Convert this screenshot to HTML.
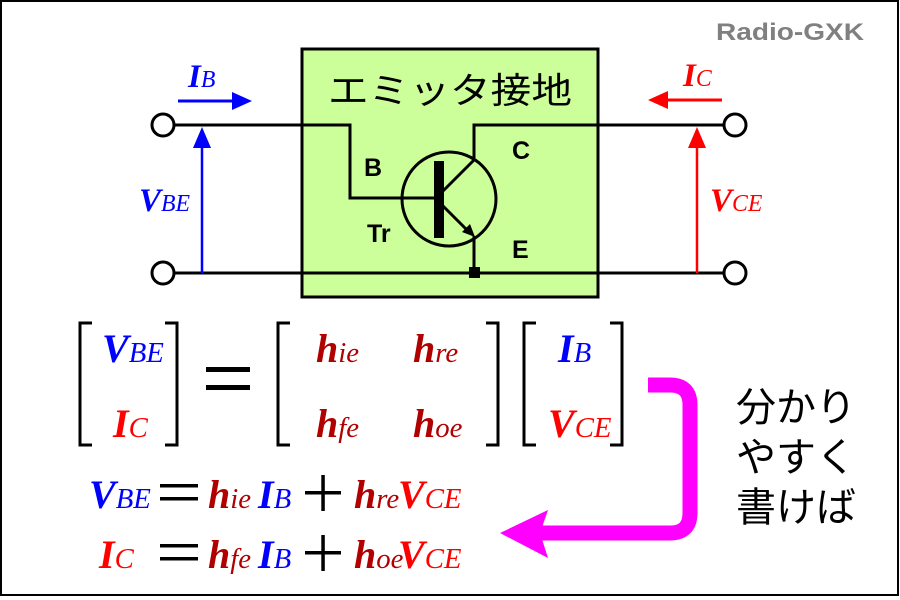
<!DOCTYPE html>
<html><head><meta charset="utf-8"><style>
html,body{margin:0;padding:0;background:#fff}
svg{display:block}
.m{font-family:"Liberation Serif",serif;font-style:italic;font-weight:bold}
.s{font-weight:normal;font-size:0.72em}
.j{font-family:"Liberation Sans","Noto Sans CJK JP",sans-serif}
</style></head><body>
<svg width="900" height="600" viewBox="0 0 900 600" xmlns="http://www.w3.org/2000/svg">
<rect x="1" y="1" width="897" height="594" fill="#fff" stroke="#000" stroke-width="2"/>
<text x="716" y="40" class="j" font-size="24" font-weight="bold" fill="#808080" textLength="148" lengthAdjust="spacingAndGlyphs">Radio-GXK</text>
<rect x="302" y="49" width="296" height="248" fill="#ccff99" stroke="#000" stroke-width="3"/>
<text x="328" y="103" class="j" font-size="36" fill="#000" textLength="244" lengthAdjust="spacingAndGlyphs">エミッタ接地</text>
<g stroke="#000" stroke-width="3" fill="none">
<polyline points="174,125 350,125 350,198 437,198"/>
<polyline points="726,125 474,125 474,158"/>
<line x1="174" y1="273" x2="726" y2="273"/>
<circle cx="163" cy="125" r="11" fill="#fff"/>
<circle cx="163" cy="273" r="11" fill="#fff"/>
<circle cx="735" cy="125" r="11" fill="#fff"/>
<circle cx="735" cy="273" r="11" fill="#fff"/>
<circle cx="449" cy="199" r="47"/>
<line x1="442" y1="192" x2="474" y2="160"/>
<line x1="442" y1="205" x2="471" y2="234"/>
<line x1="474" y1="236" x2="474" y2="273"/>
</g>
<rect x="434" y="161" width="10" height="77" fill="#000"/>
<polygon points="475,237 462,232 470,224" fill="#000"/>
<rect x="469" y="267" width="11" height="11" fill="#000"/>
<g class="j" font-size="25" font-weight="bold" fill="#000">
<text x="364" y="176">B</text><text x="512" y="159">C</text><text x="367" y="242">Tr</text><text x="512" y="258">E</text>
</g>
<g fill="#0000ff" stroke="#0000ff">
<line x1="178" y1="101" x2="238" y2="101" stroke-width="3"/>
<polygon points="252,101 232,92 232,110" stroke="none"/>
<line x1="202" y1="273" x2="202" y2="140" stroke-width="2.5"/>
<polygon points="202,127 193,148 211,148" stroke="none"/>
</g>
<g fill="#ff0000" stroke="#ff0000">
<line x1="722" y1="100" x2="664" y2="100" stroke-width="3"/>
<polygon points="648,100 668,91 668,109" stroke="none"/>
<line x1="697" y1="273" x2="697" y2="140" stroke-width="2.5"/>
<polygon points="697,127 688,148 706,148" stroke="none"/>
</g>
<text x="188" y="87" class="m" font-size="33" fill="#0000ff">I<tspan class="s">B</tspan></text>
<text x="139" y="211" class="m" font-size="33" fill="#0000ff">V<tspan class="s">BE</tspan></text>
<text x="683" y="86" class="m" font-size="33" fill="#ff0000">I<tspan class="s">C</tspan></text>
<text x="710" y="211" class="m" font-size="33" fill="#ff0000">V<tspan class="s">CE</tspan></text>
<g stroke="#000" stroke-width="3" fill="none">
<polyline points="92,323 80,323 80,445 92,445"/>
<polyline points="165,323 177,323 177,445 165,445"/>
<polyline points="290,323 278,323 278,445 290,445"/>
<polyline points="486,323 498,323 498,445 486,445"/>
<polyline points="536,323 524,323 524,445 536,445"/>
<polyline points="610,323 622,323 622,445 610,445"/>
</g>
<rect x="206" y="367" width="44" height="5" fill="#000"/>
<rect x="206" y="385" width="44" height="5" fill="#000"/>
<g class="m" font-size="40">
<text x="102" y="362" fill="#0000ff">V<tspan class="s">BE</tspan></text>
<text x="113" y="437" fill="#ff0000">I<tspan class="s">C</tspan></text>
<text x="316" y="362" fill="#b00000">h<tspan class="s">ie</tspan></text>
<text x="413" y="362" fill="#b00000">h<tspan class="s">re</tspan></text>
<text x="316" y="437" fill="#b00000">h<tspan class="s">fe</tspan></text>
<text x="413" y="437" fill="#b00000">h<tspan class="s">oe</tspan></text>
<text x="558" y="362" fill="#0000ff">I<tspan class="s">B</tspan></text>
<text x="548" y="437" fill="#ff0000">V<tspan class="s">CE</tspan></text>
<text x="89" y="508" fill="#0000ff">V<tspan class="s">BE</tspan></text>
<text x="208" y="508" fill="#b00000">h<tspan class="s">ie</tspan></text>
<text x="258" y="508" fill="#0000ff">I<tspan class="s">B</tspan></text>
<text x="354" y="508" fill="#b00000">h<tspan class="s">re</tspan></text>
<text x="398" y="508" fill="#ff0000">V<tspan class="s">CE</tspan></text>
<text x="99" y="568" fill="#ff0000">I<tspan class="s">C</tspan></text>
<text x="208" y="568" fill="#b00000">h<tspan class="s">fe</tspan></text>
<text x="258" y="568" fill="#0000ff">I<tspan class="s">B</tspan></text>
<text x="354" y="568" fill="#b00000">h<tspan class="s">oe</tspan></text>
<text x="398" y="568" fill="#ff0000">V<tspan class="s">CE</tspan></text>
</g>
<g fill="#000">
<rect x="160" y="484" width="38" height="3.5"/><rect x="160" y="497" width="38" height="3.5"/>
<rect x="160" y="544" width="38" height="3.5"/><rect x="160" y="557" width="38" height="3.5"/>
<rect x="305" y="491" width="36" height="3.5"/><rect x="321.3" y="475" width="3.5" height="36"/>
<rect x="305" y="551" width="36" height="3.5"/><rect x="321.3" y="535" width="3.5" height="36"/>
</g>
<path d="M648,385 H670 Q690,385 690,405 V513 Q690,533 670,533 H540" fill="none" stroke="#ff00ff" stroke-width="15"/>
<polygon points="500,533 548,510 540,533 548,558" fill="#ff00ff"/>
<g class="j" font-size="40" fill="#000">
<text x="736" y="421">分かり</text>
<text x="736" y="471">やすく</text>
<text x="736" y="521">書けば</text>
</g>
</svg>
</body></html>
